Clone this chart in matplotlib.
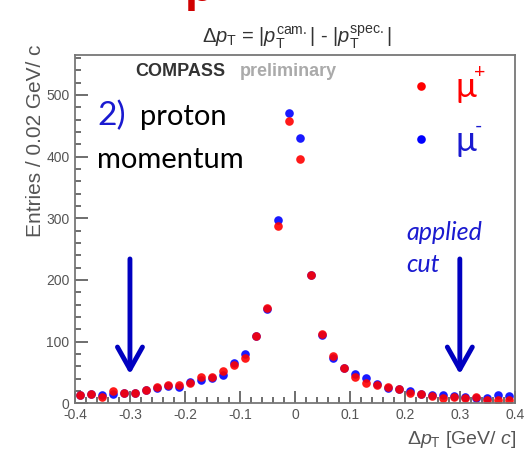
import numpy as np
import matplotlib.pyplot as plt

plt.rcParams['font.family'] = ['Liberation Sans', 'DejaVu Sans']
plt.rcParams['mathtext.fontset'] = 'custom'
plt.rcParams['mathtext.rm'] = 'Liberation Sans'
plt.rcParams['mathtext.it'] = 'Liberation Sans:italic'

# bin centres of the delta pT histogram (0.02 GeV/c bins)
bin_centres = np.round(np.arange(-0.39, 0.40, 0.02), 3)

# entries per bin
mu_plus = [14, 15, 10, 19, 17, 16, 21, 26, 29, 29,
           33, 42, 42, 53, 62, 74, 109, 155, 288, 458,
           396, 208, 113, 76, 57, 42, 32, 30, 26, 23,
           17, 15, 12, 9, 10, 8, 10, 5, 6, 6]
mu_minus = [14, 15, 13, 15, 17, 17, 22, 24, 28, 27,
            35, 38, 41, 45, 65, 79, 109, 152, 297, 471,
            430, 208, 110, 73, 57, 48, 41, 31, 24, 23,
            19, 15, 14, 13, 12, 10, 9, 9, 14, 11]

xticks = [-0.4, -0.3, -0.2, -0.1, 0, 0.1, 0.2, 0.3, 0.4]
xtick_labels = ['-0.4', '-0.3', '-0.2', '-0.1', '0', '0.1', '0.2', '0.3', '0.4']
yticks = [0, 100, 200, 300, 400, 500]
cut_positions = [-0.3, 0.3]


def px(x, y):
    # pixel position (from top-left) -> figure fraction
    return x / 528, 1 - y / 450


fig = plt.figure(figsize=(5.28, 4.5), dpi=100)
ax = fig.add_axes([0.142, 0.104, 0.833, 0.774])

ax.plot(bin_centres, mu_minus, 'o', color='#0000ff', ms=6.2, mew=0, alpha=0.9)
ax.plot(bin_centres, mu_plus, 'o', color='#ff0000', ms=6.2, mew=0, alpha=0.9)

ax.set_xlim(-0.4, 0.4)
ax.set_ylim(0, 565)
ax.set_xticks(xticks)
ax.set_xticklabels(xtick_labels)
ax.set_yticks(yticks)
ax.set_xticks(np.arange(-0.4, 0.401, 0.02), minor=True)
ax.set_yticks(np.arange(0, 561, 20), minor=True)
ax.tick_params(which='both', direction='in', color='#555555', width=1.2,
               labelcolor='#555555', labelsize=10, top=False, right=False)
ax.tick_params(which='major', length=9)
ax.tick_params(which='minor', length=4.5)
ax.tick_params(axis='x', pad=3.5)
ax.tick_params(axis='y', pad=4)
for s in ax.spines.values():
    s.set_color('#777777')
    s.set_linewidth(1.3)

# axis titles
fig.text(0.068, 0.90, 'Entries / 0.02 GeV/ c', rotation=90, ha='center', va='top',
         fontsize=15, color='#555555')
fig.text(*px(516, 444), r'$\Delta\mathit{p}_{\mathrm{T}}$ [GeV/ $\mathit{c}$]',
         ha='right', va='baseline', fontsize=14, color='#555555')
fig.text(0.562, 0.918,
         r'$\Delta\mathit{p}_{\mathrm{T}}$ = |$\mathit{p}_{\mathrm{T}}^{\mathrm{cam.}}$| - '
         r'|$\mathit{p}_{\mathrm{T}}^{\mathrm{spec.}}$|',
         ha='center', va='center', fontsize=14.5, color='#333333')

# cropped slide title fragment at the very top
fig.text(0.35, 0.997, 'p', ha='left', va='baseline', fontsize=34,
         fontweight='bold', color='#d00000')

# labels inside the frame
fig.text(*px(135, 72), 'COMPASS', fontsize=13, fontweight='bold',
         color='#333333', va='center')
fig.text(*px(240, 72), 'preliminary', fontsize=13, fontweight='bold',
         color='#aaaaaa', va='center')
fig.text(*px(97, 125), '2)', fontsize=24, color='#1a1ad0',
         family='Lato', va='baseline')
fig.text(*px(140, 125), 'proton', fontsize=21, color='black',
         family='Lato', va='baseline')
fig.text(*px(97, 168), 'momentum', fontsize=21, color='black',
         family='Lato', va='baseline')

# legend
ax.plot([0.23], [515], 'o', color='#ff0000', ms=6.2, mew=0)
ax.plot([0.23], [428], 'o', color='#0000ff', ms=6.2, mew=0)
fig.text(*px(455, 97), 'μ', fontsize=25, color='#ff0000', family='Lato', va='baseline')
fig.text(*px(474, 78), '+', fontsize=14, color='#ff0000', family='Lato', va='baseline')
fig.text(*px(455, 151), 'μ', fontsize=25, color='#1a1ad0', family='Lato', va='baseline')
fig.text(*px(475, 132), '-', fontsize=14, color='#1a1ad0', family='Lato', va='baseline')

fig.text(*px(406, 240), 'applied', fontsize=18, style='italic',
         color='#1a1ad0', family='Lato', va='baseline')
fig.text(*px(406, 272), 'cut', fontsize=18, style='italic',
         color='#1a1ad0', family='Lato', va='baseline')

for xc in cut_positions:
    ax.annotate('', xy=(xc, 47), xytext=(xc, 234),
                arrowprops=dict(arrowstyle='->,head_length=0.8,head_width=0.45',
                                lw=3.5, color='#0000c0', mutation_scale=20,
                                shrinkA=0, shrinkB=0))

fig.savefig('out.png', dpi=100)
